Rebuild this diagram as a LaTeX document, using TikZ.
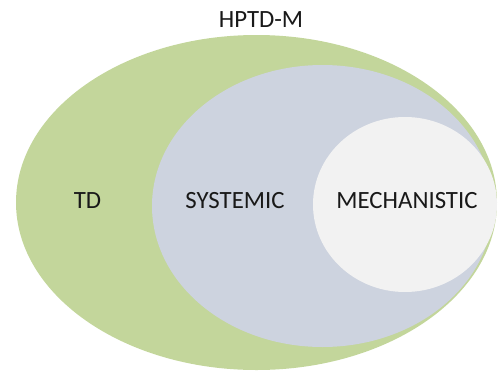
\documentclass[tikz,border=0pt]{standalone}
\usepackage{fontspec}
\setmainfont{Carlito}
\usetikzlibrary{shapes.geometric}

\definecolor{tdgreen}{RGB}{195,214,155}
\definecolor{sysgrey}{RGB}{205,211,223}
\definecolor{mechwhite}{RGB}{242,242,242}
\definecolor{labelgrey}{RGB}{25,25,25}

\begin{document}
\begin{tikzpicture}[x=1pt,y=1pt,
  set/.style={ellipse,inner sep=0pt,draw=none},
  label text/.style={font=\fontsize{24.8}{27}\selectfont,text=labelgrey,inner sep=0pt}]

  \useasboundingbox (0,0) rectangle (499,-373);

  %the three nested sets%
  \node[set,fill=tdgreen,minimum width=481,minimum height=335] (TDset) at (256.5,-202.5) {};
  \node[set,fill=sysgrey,minimum width=341,minimum height=282] (SYSset) at (322.5,-206) {};
  \node[set,fill=mechwhite,minimum width=184,minimum height=175] (MECHset) at (405,-204.5) {};

  %labels%
  \node[label text] (HPTD) at (261,-20) {HPTD-M};
  \node[label text] (TD) at (87.5,-200.5) {TD};
  \node[label text] (SYS) at (235,-200.5) {SYSTEMIC};
  \node[label text] (MECH) at (407,-200.5) {MECHANISTIC};

\end{tikzpicture}
\end{document}
